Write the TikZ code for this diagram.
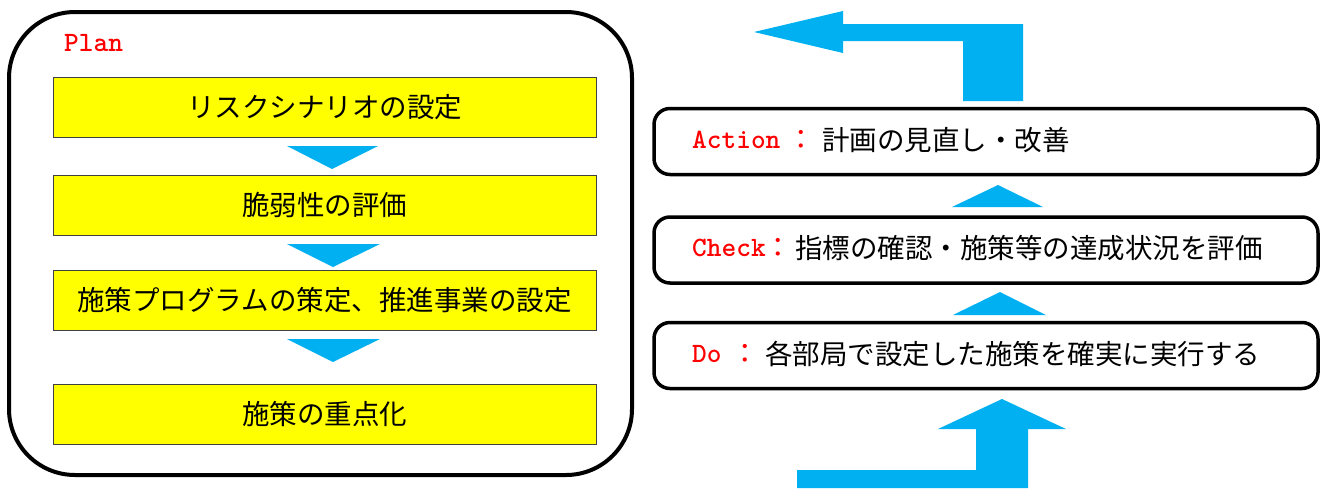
\documentclass[tikz,border=0pt]{standalone}
\usepackage{fontspec}
\newfontfamily\jp{Noto Sans CJK JP}
\definecolor{arrowblue}{HTML}{00B0F0}
\definecolor{plred}{HTML}{FF0000}
\definecolor{boxyellow}{HTML}{FFFF00}
\tikzset{
  ybox/.style={draw=black!75, line width=1pt, fill=boxyellow, minimum width=543pt, minimum height=60pt, inner sep=0pt, font=\jp\fontsize{27.5}{30}\selectfont},
  capsule/.style={draw=black, line width=3.5pt, rounded corners=16pt, minimum width=664pt, minimum height=66pt, inner sep=0pt},
  captext/.style={anchor=west, inner sep=0pt, font=\jp\fontsize{27.5}{30}\selectfont},
  colontext/.style={inner sep=0pt, text=plred, font=\jp\fontsize{27.5}{30}\selectfont},
  redlab/.style={anchor=west, inner sep=0pt, text=plred, font=\ttfamily\bfseries\fontsize{28}{30}\selectfont}
}
\begin{document}
\begin{tikzpicture}[x=1pt,y=-1pt]
\useasboundingbox (0,0) rectangle (1325,488);
% Plan frame
\draw[line width=4pt, rounded corners=66pt] (9,12) rectangle (632,475);
\node[redlab] (plan) at (64,43) {Plan};
% yellow boxes
\node[ybox] (b1) at (324.5,107) {リスクシナリオの設定};
\node[ybox] (b2) at (324.5,205) {脆弱性の評価};
\node[ybox] (b3) at (324.5,300) {施策プログラムの策定、推進事業の設定};
\node[ybox] (b4) at (324.5,414) {施策の重点化};
% down triangles
\fill[arrowblue] (287,146) -- (378,146) -- (332,169) -- cycle;
\fill[arrowblue] (287,244) -- (380,244) -- (333,267) -- cycle;
\fill[arrowblue] (287,339) -- (380,339) -- (333,362) -- cycle;
% capsules
\node[capsule] (act) at (986,141.5) {};
\node[capsule] (chk) at (986,250) {};
\node[capsule] (do) at (986,355.5) {};
% labels
\node[redlab] (actl) at (692,140) {Action};
\node[colontext] (actc) at (801,140) {：};
\node[captext] (actt) at (822,140) {計画の見直し・改善};
\node[redlab] (chkl) at (692,248) {Check};
\node[colontext] (chkc) at (778,248) {：};
\node[captext] (chkt) at (795,248) {指標の確認・施策等の達成状況を評価};
\node[redlab] (dol) at (692,354) {Do};
\node[colontext] (doc) at (745,354) {：};
\node[captext] (dot) at (765,354) {各部局で設定した施策を確実に実行する};
% up triangles
\fill[arrowblue] (952,207) -- (1043,207) -- (998,185) -- cycle;
\fill[arrowblue] (953,315) -- (1046,315) -- (1000,292) -- cycle;
% top bent arrow
\fill[arrowblue] (1023,101) -- (1023,24) -- (843,24) -- (843,11) -- (754,32) -- (843,53) -- (843,41) -- (963,41) -- (963,101) -- cycle;
% bottom bent arrow
\fill[arrowblue] (797,488) -- (797,470) -- (976,470) -- (976,429) -- (938,429) -- (1002,399) -- (1066,429) -- (1028,429) -- (1028,488) -- cycle;
\end{tikzpicture}
\end{document}
